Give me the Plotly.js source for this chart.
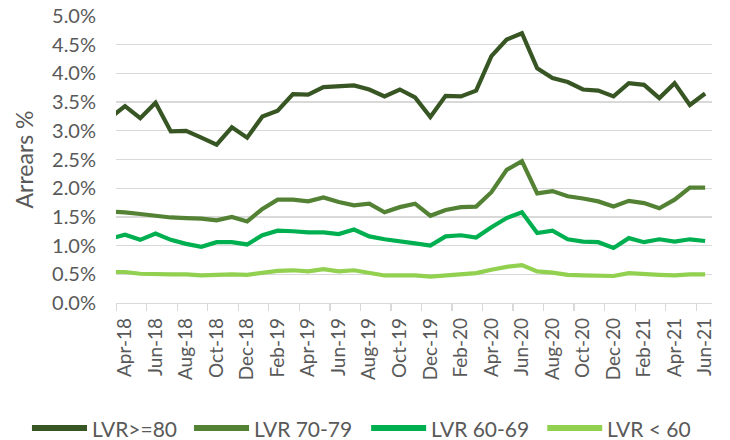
<!DOCTYPE html>
<html>
<head>
<meta charset="utf-8">
<script src="https://cdn.plot.ly/plotly-3.0.1.min.js"></script>
<style>html,body{margin:0;padding:0;background:#fff;}#chart{width:730px;height:440px;}</style>
</head>
<body>
<div id="chart"></div>
<script>
// Months (Mar-18 is just outside the visible axis, clipped at the left edge)
var months = ['Mar-18','Apr-18','May-18','Jun-18','Jul-18','Aug-18','Sep-18','Oct-18','Nov-18','Dec-18',
  'Jan-19','Feb-19','Mar-19','Apr-19','May-19','Jun-19','Jul-19','Aug-19','Sep-19','Oct-19','Nov-19','Dec-19',
  'Jan-20','Feb-20','Mar-20','Apr-20','May-20','Jun-20','Jul-20','Aug-20','Sep-20','Oct-20','Nov-20','Dec-20',
  'Jan-21','Feb-21','Mar-21','Apr-21','May-21','Jun-21'];

var lvr80 = [3.22,3.43,3.22,3.49,2.99,3.00,2.88,2.76,3.06,2.88,
  3.25,3.35,3.64,3.63,3.76,3.77,3.79,3.72,3.60,3.72,3.58,3.24,
  3.61,3.60,3.70,4.30,4.59,4.70,4.09,3.92,3.85,3.72,3.70,3.60,
  3.83,3.80,3.57,3.83,3.45,3.65];
var lvr7079 = [1.59,1.58,1.55,1.52,1.49,1.48,1.47,1.44,1.50,1.42,
  1.64,1.80,1.80,1.77,1.84,1.76,1.70,1.73,1.58,1.67,1.73,1.52,
  1.62,1.67,1.68,1.93,2.32,2.47,1.91,1.95,1.86,1.82,1.77,1.68,
  1.78,1.74,1.65,1.80,2.01,2.01];
var lvr6069 = [1.12,1.19,1.10,1.21,1.10,1.03,0.98,1.06,1.06,1.02,
  1.18,1.26,1.25,1.23,1.23,1.20,1.28,1.16,1.11,1.08,1.04,1.00,
  1.16,1.18,1.14,1.32,1.48,1.58,1.22,1.26,1.11,1.07,1.06,0.96,
  1.13,1.06,1.11,1.07,1.11,1.08];
var lvr60 = [0.54,0.54,0.51,0.50,0.50,0.50,0.48,0.49,0.50,0.49,
  0.53,0.56,0.57,0.55,0.59,0.55,0.57,0.53,0.48,0.48,0.48,0.46,
  0.48,0.49,0.52,0.58,0.63,0.66,0.55,0.53,0.49,0.48,0.48,0.47,
  0.52,0.50,0.49,0.48,0.50,0.50];

var seriesNames = ['LVR>=80','LVR 70-79','LVR 60-69','LVR < 60'];
var seriesColors = ['#375623','#548235','#00B050','#92D050'];
var seriesValues = [lvr80, lvr7079, lvr6069, lvr60];

var xIdx = months.map(function(m,i){return i;});
// labels every second month starting Apr-18
var tickVals = [], tickText = [];
for (var i = 1; i < months.length; i += 2) { tickVals.push(i); tickText.push(months[i]); }
var minorVals = [];
for (var k = 0; k < 20; k++) { minorVals.push(0.42 + 2*k); }

var FONT = 'Lato, "Open Sans", sans-serif';
var TXT = '#595959';

var traces = seriesValues.map(function(v, s){
  return {x: xIdx, y: v, type: 'scatter', mode: 'lines', name: seriesNames[s],
    line: {color: seriesColors[s], width: 4.2}, showlegend: false, hoverinfo: 'skip'};
});

// custom legend: line samples + labels (paper coords)
var L = 116, W = 595.7, T = 16, H = 287.3;
function px(x){ return (x - L) / W; }
var legY = (T + H - 428.5) / H;
var legStarts = [32, 194, 371, 547];
var shapes = [], annotations = [];
legStarts.forEach(function(x0, s){
  shapes.push({type:'line', xref:'paper', yref:'paper', x0:px(x0), x1:px(x0+55), y0:legY, y1:legY,
    line:{color: seriesColors[s], width: 6}});
  annotations.push({xref:'paper', yref:'paper', x:px(x0+58), y:legY, xanchor:'left', yanchor:'middle',
    text: seriesNames[s], showarrow:false, font:{family:FONT, size:21, color:TXT}});
});

var layout = {
  width: 730, height: 440,
  margin: {l: L, r: 730 - L - W, t: T, b: 440 - T - H},
  paper_bgcolor: '#ffffff', plot_bgcolor: '#ffffff',
  showlegend: false,
  xaxis: {
    range: [0.41, 39.45], tickmode: 'array', tickvals: tickVals, ticktext: tickText,
    tickangle: -90, ticks: '', showgrid: false, zeroline: false,
    showline: true, linecolor: '#d9d9d9', linewidth: 1.3,
    tickfont: {family: FONT, size: 19, color: TXT}, ticklabelstandoff: 6,
    minor: {tickmode: 'array', tickvals: minorVals, ticks: 'outside', ticklen: 7, tickcolor: '#d9d9d9', tickwidth: 1.3, showgrid: false},
    fixedrange: true
  },
  yaxis: {
    range: [0, 5], tickmode: 'linear', tick0: 0, dtick: 0.5, tickformat: '.1f', ticksuffix: '%',
    showgrid: true, gridcolor: '#d9d9d9', gridwidth: 1.3, zeroline: false, showline: false, ticks: '',
    tickfont: {family: FONT, size: 20, color: TXT}, ticklabelstandoff: 19,
    title: {text: 'Arrears %', font: {family: FONT, size: 23, color: TXT}, standoff: 11},
    fixedrange: true
  },
  shapes: shapes,
  annotations: annotations
};

Plotly.newPlot('chart', traces, layout, {displayModeBar: false, staticPlot: true});
</script>
</body>
</html>
